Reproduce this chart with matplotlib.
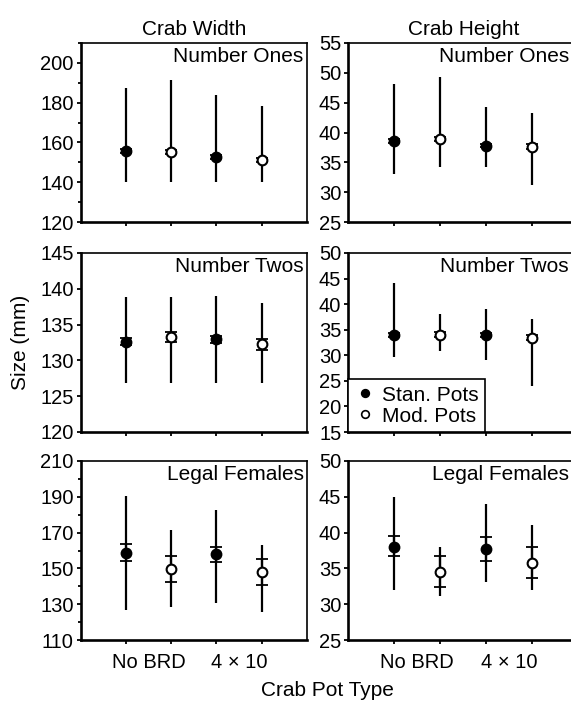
import matplotlib
matplotlib.use("Agg")
import matplotlib.pyplot as plt
from matplotlib.lines import Line2D
import numpy as np

plt.rcParams['font.family'] = ['Liberation Sans', 'DejaVu Sans']

groups = ["No BRD", "4 × 10"]
pot_types = ["Stan. Pots", "Mod. Pots", "Stan. Pots", "Mod. Pots"]
filled = [True, False, True, False]

# Crab Width - Number Ones
w1_mean = [155.5, 155.0, 152.5, 151.0]
w1_lo = [154.5, 154.0, 151.5, 150.0]
w1_hi = [156.5, 156.0, 153.5, 152.0]
w1_min = [140, 140, 140, 140]
w1_max = [187.5, 191.5, 184, 178.5]
w1_ticks = [120, 140, 160, 180, 200]
w1_minor = [130, 150, 170, 190, 210]

# Crab Height - Number Ones
h1_mean = [38.6, 38.9, 37.8, 37.6]
h1_lo = [38.3, 38.5, 37.5, 37.2]
h1_hi = [38.9, 39.3, 38.1, 38.0]
h1_min = [33.0, 34.2, 34.2, 31.2]
h1_max = [48.2, 49.3, 44.3, 43.3]
h1_ticks = [25, 30, 35, 40, 45, 50, 55]

# Crab Width - Number Twos
w2_mean = [132.6, 133.3, 132.95, 132.25]
w2_lo = [132.1, 132.6, 132.4, 131.5]
w2_hi = [133.1, 134.0, 133.45, 133.0]
w2_min = [126.9, 126.9, 126.9, 126.9]
w2_max = [138.8, 138.8, 139.0, 138.0]
w2_ticks = [120, 125, 130, 135, 140, 145]

# Crab Height - Number Twos
h2_mean = [33.9, 34.0, 34.0, 33.4]
h2_lo = [33.5, 33.5, 33.6, 32.9]
h2_hi = [34.3, 34.5, 34.4, 33.9]
h2_min = [29.7, 30.8, 29.0, 23.9]
h2_max = [44.2, 38.1, 39.0, 37.0]
h2_ticks = [15, 20, 25, 30, 35, 40, 45, 50]

# Crab Width - Legal Females
w3_mean = [158.7, 149.7, 157.8, 148.0]
w3_lo = [154.0, 142.4, 153.4, 140.9]
w3_hi = [163.4, 156.8, 161.9, 155.3]
w3_min = [126.5, 128.7, 130.6, 125.9]
w3_max = [190.2, 171.2, 182.5, 163.0]
w3_ticks = [110, 130, 150, 170, 190, 210]
w3_minor = [120, 140, 160, 180, 200]

# Crab Height - Legal Females
h3_mean = [38.0, 34.5, 37.7, 35.8]
h3_lo = [36.7, 32.4, 36.0, 33.6]
h3_hi = [39.5, 36.8, 39.4, 38.0]
h3_min = [32.0, 31.1, 33.1, 32.0]
h3_max = [45.0, 38.0, 44.0, 41.1]
h3_ticks = [25, 30, 35, 40, 45, 50]

panels = [
    # (row, col, mean, lo, hi, mn, mx, ylim, major, minor, label)
    (0, 0, w1_mean, w1_lo, w1_hi, w1_min, w1_max, (120, 210), w1_ticks, w1_minor, "Number Ones"),
    (0, 1, h1_mean, h1_lo, h1_hi, h1_min, h1_max, (25, 55), h1_ticks, None, "Number Ones"),
    (1, 0, w2_mean, w2_lo, w2_hi, w2_min, w2_max, (120, 145), w2_ticks, None, "Number Twos"),
    (1, 1, h2_mean, h2_lo, h2_hi, h2_min, h2_max, (15, 50), h2_ticks, None, "Number Twos"),
    (2, 0, w3_mean, w3_lo, w3_hi, w3_min, w3_max, (110, 210), w3_ticks, w3_minor, "Legal Females"),
    (2, 1, h3_mean, h3_lo, h3_hi, h3_min, h3_max, (25, 50), h3_ticks, None, "Legal Females"),
]

W, H = 571, 703
fig = plt.figure(figsize=(W / 100, H / 100), dpi=100)

col_x = [80.7, 348.3]
col_w = [226.3, 230.0]
row_y = [(43, 222), (253, 432), (461, 640)]

FS = 15
TFS = 14.5
x = np.arange(1, 5)
axes = {}
for (r, c, mean, lo, hi, mn, mx, ylim, major, minor, label) in panels:
    top, bot = row_y[r]
    ax = fig.add_axes([col_x[c] / W, 1 - bot / H, col_w[c] / W, (bot - top) / H])
    axes[(r, c)] = ax
    ax.set_xlim(0, 5)
    ax.set_ylim(*ylim)
    ax.set_yticks(major)
    if minor:
        ax.set_yticks(minor, minor=True)
    ax.set_xticks(x)
    ax.set_xticks([1.5, 3.5], minor=True)
    ax.tick_params(axis='x', which='major', length=3, width=1.3, direction='out', labelbottom=False)
    if r == 2:
        ax.set_xticklabels(groups, minor=True)
        ax.tick_params(axis='x', which='minor', length=0, pad=9, labelsize=TFS)
    else:
        ax.tick_params(axis='x', which='minor', length=0, labelbottom=False)
    ax.tick_params(axis='y', which='major', length=3, width=1.3, direction='out', labelsize=TFS, pad=2)
    ax.tick_params(axis='y', which='minor', length=2, width=1.3, direction='out')
    for s in ['left', 'bottom']:
        ax.spines[s].set_linewidth(1.9)
    for s in ['top', 'right']:
        ax.spines[s].set_linewidth(1.2)

    mean = np.array(mean); lo = np.array(lo); hi = np.array(hi)
    ax.vlines(x, mn, mx, colors='black', linewidth=1.6, zorder=2)
    ax.errorbar(x, mean, yerr=[mean - lo, hi - mean], fmt='none', ecolor='black',
                elinewidth=1.6, capsize=4.5, capthick=1.3, zorder=3)
    for xi, yi, f in zip(x, mean, filled):
        ax.plot([xi], [yi], marker='o', markersize=7.0,
                markerfacecolor='black' if f else 'white',
                markeredgecolor='black', markeredgewidth=1.5, zorder=4, linestyle='none')
    if c == 0:
        ax.text(0.985, 0.975, label, transform=ax.transAxes, ha='right', va='top', fontsize=FS)
    else:
        # keep the label inside the visible part of the figure
        ax.text((569 - col_x[1]) / col_w[1], 0.975, label, transform=ax.transAxes,
                ha='right', va='top', fontsize=FS)

axes[(0, 0)].set_title("Crab Width", fontsize=FS, pad=6)
axes[(0, 1)].set_title("Crab Height", fontsize=FS, pad=6)

handles = [
    Line2D([], [], marker='o', linestyle='none', markersize=5.5, markerfacecolor='black',
           markeredgecolor='black', markeredgewidth=1.2),
    Line2D([], [], marker='o', linestyle='none', markersize=5.5, markerfacecolor='white',
           markeredgecolor='black', markeredgewidth=1.2),
]
leg = axes[(1, 1)].legend(handles, ["Stan. Pots", "Mod. Pots"], loc='lower left',
                          bbox_to_anchor=(0, 0), borderaxespad=0, fontsize=FS,
                          frameon=True, fancybox=False, handlelength=1.0,
                          handletextpad=0.3, borderpad=0.3, labelspacing=0.1)
leg.get_frame().set_edgecolor('black')
leg.get_frame().set_linewidth(1.2)
leg.get_frame().set_alpha(1)

fig.text(21 / W, 1 - 342 / H, "Size (mm)", rotation=90, ha='center', va='center', fontsize=FS)
fig.text(327 / W, 1 - 691 / H, "Crab Pot Type", ha='center', va='center', fontsize=FS)

fig.savefig("out.png", dpi=100)
